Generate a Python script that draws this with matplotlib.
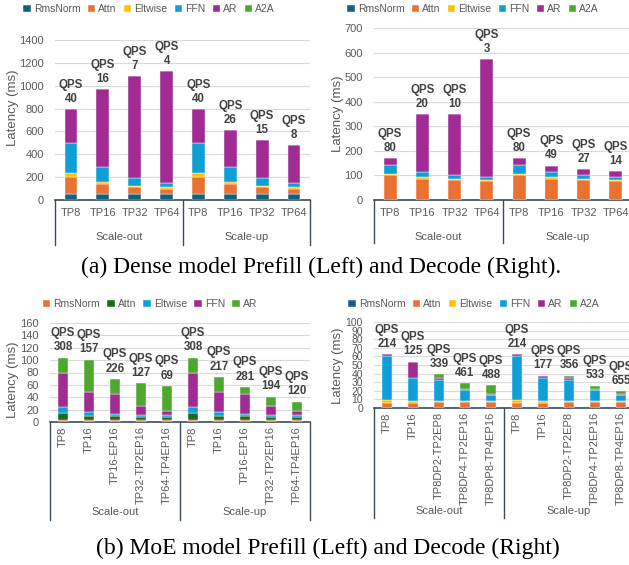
import matplotlib
matplotlib.use('Agg')
import matplotlib.pyplot as plt

W, H = 629, 565

# ---------------- data ----------------
dense_cats = ['TP8', 'TP16', 'TP32', 'TP64', 'TP8', 'TP16', 'TP32', 'TP64']

dense_prefill_rmsnorm = [55, 55, 55, 55, 55, 55, 55, 55]
dense_prefill_attn = [146, 88, 56, 44, 146, 88, 56, 44]
dense_prefill_eltwise = [35, 17, 14, 12, 35, 17, 14, 12]
dense_prefill_ffn = [260, 132, 70, 38, 260, 132, 70, 38]
dense_prefill_ar = [300, 676, 887, 979, 300, 320, 330, 332]
dense_prefill_a2a = [0, 0, 0, 0, 0, 0, 0, 0]
dense_prefill_qps = [40, 16, 7, 4, 40, 26, 15, 8]

dense_decode_rmsnorm = [1, 1, 1, 1, 1, 1, 1, 1]
dense_decode_attn = [99, 86, 82, 78, 99, 86, 82, 78]
dense_decode_eltwise = [5, 5, 3, 2.5, 5, 5, 3, 2.5]
dense_decode_ffn = [39, 21, 14.5, 10.5, 39, 21, 14.5, 10.5]
dense_decode_ar = [26, 235, 248.5, 482, 26, 27, 24.5, 26]
dense_decode_a2a = [0, 0, 0, 0, 0, 0, 0, 0]
dense_decode_qps = [80, 20, 10, 3, 80, 49, 27, 14]

moe_prefill_cats = ['TP8', 'TP16', 'TP16-EP16', 'TP32-TP2EP16', 'TP64-TP4EP16'] * 2
moe_prefill_rmsnorm = [4, 4, 4, 4, 4, 4, 4, 4, 4, 4]
moe_prefill_attn = [11, 6.5, 6, 4.5, 3.5, 11, 6.5, 6, 4.5, 3.5]
moe_prefill_eltwise = [9, 6, 3.5, 3.5, 3.5, 9, 6, 3.5, 3.5, 3.5]
moe_prefill_ffn = [56, 32, 31, 14.5, 7, 56, 32, 31, 14.5, 7]
moe_prefill_ar = [24, 52.5, 25.5, 36.5, 40.5, 24, 24.5, 12.5, 14.5, 15]
moe_prefill_qps = [308, 157, 226, 127, 69, 308, 217, 281, 194, 120]

moe_decode_cats = ['TP8', 'TP16', 'TP8DP2-TP2EP8', 'TP8DP4-TP2EP16', 'TP8DP8-TP4EP16'] * 2
moe_decode_rmsnorm = [0.5, 0.5, 0.5, 0.5, 0.5, 0.5, 0.5, 0.5, 0.5, 0.5]
moe_decode_attn = [5.5, 5, 6, 6, 6, 5.5, 5, 6, 6, 6]
moe_decode_eltwise = [3, 2.5, 2, 1.5, 1.5, 3, 2.5, 2, 1.5, 1.5]
moe_decode_ffn = [51.5, 27.3, 24.5, 13, 7, 51.5, 27.3, 24.5, 13, 7]
moe_decode_ar = [2.3, 18.6, 2, 1.5, 1.7, 2.3, 2.3, 2, 1.5, 1.7]
moe_decode_a2a = [0, 0, 4, 6.2, 10, 0, 0, 2.6, 3.5, 3.1]
moe_decode_qps = [214, 125, 339, 461, 488, 214, 177, 356, 533, 655]

groups = ['Scale-out', 'Scale-up']

# ---------------- style ----------------
C_RMS = '#156082'
C_ATTN = '#E97132'
C_ELT = '#FFC000'
C_FFN = '#0F9ED5'
C_AR = '#A02B93'
C_A2A = '#4EA72E'
C_DKGREEN = '#196B24'
GRAY = '#595959'
LINE = '#3B4A5C'

plt.rcParams['font.family'] = ['Liberation Sans', 'DejaVu Sans']

fig = plt.figure(figsize=(W / 100, H / 100), dpi=100)


def px_rect(l, t, r, b):
    return [l / W, 1 - b / H, (r - l) / W, (b - t) / H]


def draw_panel(rect, cats, series, qps, ymax, ystep, legend_xy,
               label_drop, line_drop, rotate, ylabel_xy, ytick_size=8):
    ax = fig.add_axes(px_rect(*rect))
    x = list(range(len(cats)))
    bottom = [0] * len(cats)
    for name, vals, color in series:
        ax.bar(x, vals, 0.4, bottom=bottom, color=color, label=name,
               edgecolor='white', linewidth=0.3, zorder=3)
        bottom = [b + v for b, v in zip(bottom, vals)]
    for xi, top, q in zip(x, bottom, qps):
        ax.annotate('QPS\n%d' % q, (xi, top), xytext=(0, 3),
                    textcoords='offset points', ha='center', va='bottom',
                    fontsize=8.3, fontweight='bold', color='#404040',
                    linespacing=1.25, annotation_clip=False)

    n = len(cats)
    ax.set_xlim(-0.5, n - 0.5)
    ax.set_ylim(0, ymax)
    ax.set_yticks(range(0, ymax + 1, ystep))
    ax.yaxis.grid(True, color='#D9D9D9', linewidth=0.8, zorder=0)
    ax.set_axisbelow(True)
    for s in ['top', 'right', 'left']:
        ax.spines[s].set_visible(False)
    ax.spines['bottom'].set_color(LINE)
    ax.spines['bottom'].set_linewidth(1.2)
    ax.set_xticks(x)
    ax.set_xticklabels(cats, rotation=90 if rotate else 0)
    ax.tick_params(axis='x', length=0, pad=3 if rotate else 6,
                   labelsize=8, labelcolor=GRAY)
    ax.tick_params(axis='y', length=0, pad=8, labelsize=ytick_size,
                   labelcolor=GRAY)

    # group dividers and labels under the category axis
    h = rect[3] - rect[1]
    trans = ax.get_xaxis_transform()
    half = n // 2
    for xd in [-0.5, half - 0.5, n - 0.5]:
        ax.plot([xd, xd], [0, -line_drop / h], color=LINE, lw=1.0,
                transform=trans, clip_on=False)
    for i, g in enumerate(groups):
        xc = i * half + (half - 1) / 2
        ax.text(xc, -label_drop / h, g, transform=trans, ha='center',
                va='center', fontsize=8, color=GRAY)

    fig.text(ylabel_xy[0] / W, 1 - ylabel_xy[1] / H, 'Latency (ms)',
             rotation=90, ha='center', va='center', fontsize=9.5, color=GRAY)

    ax.legend(loc='center', ncol=len(series), frameon=False,
              bbox_to_anchor=(legend_xy[0] / W, 1 - legend_xy[1] / H),
              bbox_transform=fig.transFigure, fontsize=7.5,
              labelcolor=GRAY, handlelength=0.7, handleheight=0.7,
              handletextpad=0.3, columnspacing=0.7, borderaxespad=0)
    return ax


draw_panel((55, 40, 310, 200), dense_cats,
           [('RmsNorm', dense_prefill_rmsnorm, C_RMS),
            ('Attn', dense_prefill_attn, C_ATTN),
            ('Eltwise', dense_prefill_eltwise, C_ELT),
            ('FFN', dense_prefill_ffn, C_FFN),
            ('AR', dense_prefill_ar, C_AR),
            ('A2A', dense_prefill_a2a, C_A2A)],
           dense_prefill_qps, 1400, 200, (149, 9), 37, 45, False, (13, 108))

draw_panel((374, 28, 632, 200), dense_cats,
           [('RmsNorm', dense_decode_rmsnorm, C_RMS),
            ('Attn', dense_decode_attn, C_ATTN),
            ('Eltwise', dense_decode_eltwise, C_ELT),
            ('FFN', dense_decode_ffn, C_FFN),
            ('AR', dense_decode_ar, C_AR),
            ('A2A', dense_decode_a2a, C_A2A)],
           dense_decode_qps, 700, 100, (473, 9), 37, 43, False, (338, 114))

draw_panel((50, 323, 310, 422), moe_prefill_cats,
           [('RmsNorm', moe_prefill_rmsnorm, C_ATTN),
            ('Attn', moe_prefill_attn, C_DKGREEN),
            ('Eltwise', moe_prefill_eltwise, C_FFN),
            ('FFN', moe_prefill_ffn, C_AR),
            ('AR', moe_prefill_ar, C_A2A)],
           moe_prefill_qps, 160, 20, (150, 304), 90, 98, True, (13, 380))

draw_panel((374, 322, 634, 408), moe_decode_cats,
           [('RmsNorm', moe_decode_rmsnorm, C_RMS),
            ('Attn', moe_decode_attn, C_ATTN),
            ('Eltwise', moe_decode_eltwise, C_ELT),
            ('FFN', moe_decode_ffn, C_FFN),
            ('AR', moe_decode_ar, C_AR),
            ('A2A', moe_decode_a2a, C_A2A)],
           moe_decode_qps, 100, 10, (474, 304), 103, 110, True, (338, 366),
           ytick_size=7.5)

fig.text(321 / W, 1 - 267 / H, '(a) Dense model Prefill (Left) and Decode (Right).',
         ha='center', va='center', fontsize=17, family='Liberation Serif')
fig.text(328 / W, 1 - 548 / H, '(b) MoE model Prefill (Left) and Decode (Right)',
         ha='center', va='center', fontsize=17, family='Liberation Serif')

fig.savefig('out.png', dpi=100)
